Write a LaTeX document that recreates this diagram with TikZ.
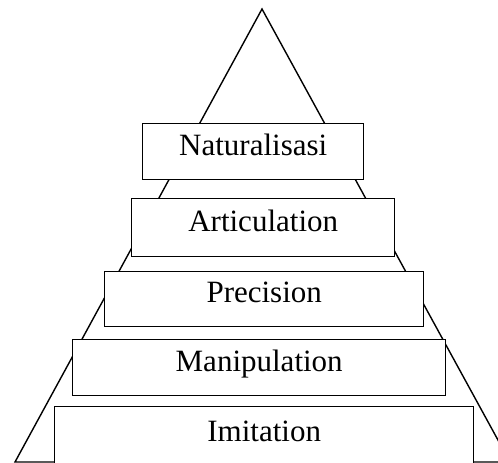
\documentclass[tikz,border=0pt]{standalone}
\usepackage{fontspec}
\setmainfont{Liberation Serif}
\usetikzlibrary{positioning}

\begin{document}
\begin{tikzpicture}[x=1pt, y=-1pt, line width=1.4pt, level/.style={draw, rectangle, fill=white, inner sep=0pt, anchor=north west, text depth=0pt, text height=0.72em, font=\fontsize{31}{36}\selectfont}]
		\useasboundingbox (0, 0) rectangle (498, 463);
		\clip (0, 0) rectangle (498, 463);
		\coordinate (top) at (262, 9);
		\coordinate (baseL) at (15, 462);
		\coordinate (baseR) at (510, 462);
		\draw (top) -- (baseL) -- (baseR) -- cycle;
		\node[level, minimum width=221pt, minimum height=56pt] (nat) at (142, 123) {Naturalisasi};
		\node[level, minimum width=263pt, minimum height=58pt] (art) at (131, 198) {Articulation};
		\node[level, minimum width=319pt, minimum height=55pt] (pre) at (104, 271) {Precision};
		\node[level, minimum width=373pt, minimum height=56pt] (man) at (72, 339) {Manipulation};
		\node[level, minimum width=419pt, minimum height=62pt] (imi) at (54, 406) {Imitation};
	\end{tikzpicture}
\end{document}
